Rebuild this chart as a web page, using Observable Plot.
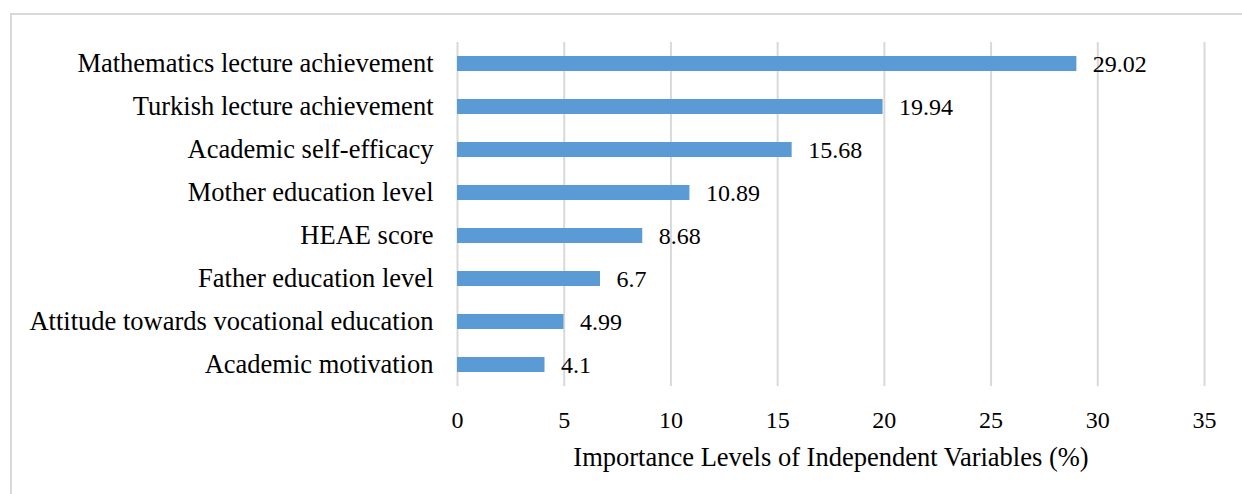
<!DOCTYPE html>
<html>
<head>
<meta charset="utf-8">
<script src="https://cdn.jsdelivr.net/npm/d3@7"></script>
<script src="https://cdn.jsdelivr.net/npm/@observablehq/plot@0.6"></script>
<style>
  html, body { margin: 0; padding: 0; background: #fff; }
  #wrap { position: relative; width: 1242px; height: 494px; overflow: hidden; }
  #frame { position: absolute; left: 10px; top: 13px; width: 1300px; height: 600px; border: 2px solid #d9d9d9; box-sizing: border-box; }
  #chart { position: absolute; left: 0; top: 0; }
  #chart svg, #chart svg text { font-family: "Liberation Serif", "Times New Roman", serif !important; }
</style>
</head>
<body>
<div id="wrap"><div id="frame"></div><div id="chart"></div></div>
<script>
const categories = [
  "Mathematics lecture achievement",
  "Turkish lecture achievement",
  "Academic self-efficacy",
  "Mother education level",
  "HEAE score",
  "Father education level",
  "Attitude towards vocational education",
  "Academic motivation"
];
const values = [29.02, 19.94, 15.68, 10.89, 8.68, 6.7, 4.99, 4.1];
const xTicks = [0, 5, 10, 15, 20, 25, 30, 35];
const xTitle = "Importance Levels of Independent Variables (%)";

const data = categories.map((c, i) => ({ category: c, value: values[i] }));

const plot = Plot.plot({
  width: 1242,
  height: 494,
  marginLeft: 457,
  marginRight: 38,
  marginTop: 42,
  marginBottom: 108,
  style: { background: "transparent", color: "#000" },
  x: { domain: [0, 35], ticks: xTicks },
  y: { domain: categories, padding: 0 },
  marks: [
    Plot.gridX(xTicks, { stroke: "#d9d9d9", strokeOpacity: 1, strokeWidth: 2 }),
    Plot.barX(data, { x: "value", y: "category", fill: "#5b9bd5", insetTop: 14, insetBottom: 14 }),
    Plot.text(data, { x: "value", y: "category", text: d => String(d.value), textAnchor: "start", dx: 16, fontSize: 24, fill: "#000" }),
    Plot.axisX(xTicks, { tickSize: 0, tickPadding: 24, fontSize: 24, label: null, fill: "#000" }),
    Plot.axisY({ tickSize: 0, tickPadding: 24, fontSize: 26.5, label: null, fill: "#000" }),
    Plot.text([xTitle], { frameAnchor: "bottom", dy: 79, fontSize: 26.5, fill: "#000" })
  ]
});
document.getElementById("chart").appendChild(plot);
</script>
</body>
</html>
